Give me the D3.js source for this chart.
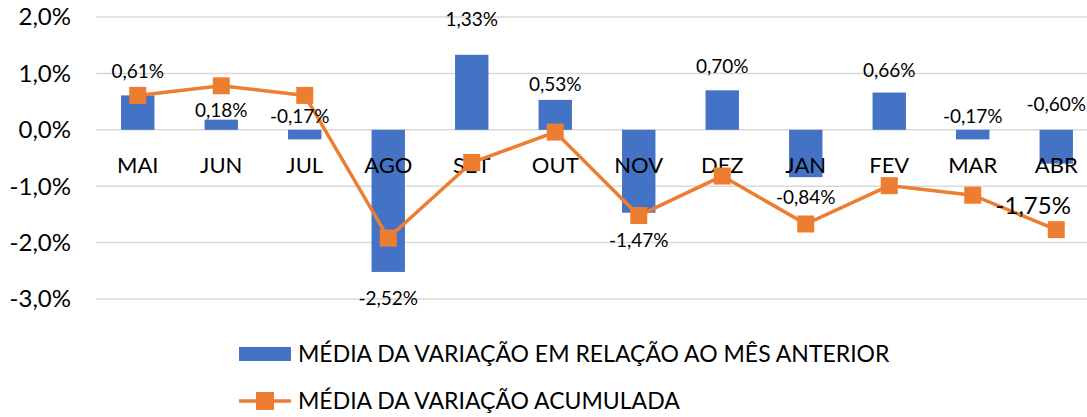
<!DOCTYPE html>
<html><head><meta charset="utf-8">
<script src="https://cdn.jsdelivr.net/npm/d3@7"></script>
<style>body{margin:0;background:#fff}svg{display:block}text{font-family:Lato,"Open Sans",sans-serif;fill:#000}</style>
</head><body><svg id="c" width="1087" height="417"></svg>
<script>
const months = ["MAI","JUN","JUL","AGO","SET","OUT","NOV","DEZ","JAN","FEV","MAR","ABR"];
const monthlyVar = [0.61,0.18,-0.17,-2.52,1.33,0.53,-1.47,0.70,-0.84,0.66,-0.17,-0.60];
const cumulativeVar = [0.61,0.78,0.61,-1.92,-0.58,-0.04,-1.52,-0.82,-1.67,-0.99,-1.16,-1.77];
const yTicks = [2,1,0,-1,-2,-3];
const seriesNames = ["MÉDIA DA VARIAÇÃO EM RELAÇÃO AO MÊS ANTERIOR","MÉDIA DA VARIAÇÃO ACUMULADA"];
const lineLabelText = "-1,75%";
// layout for bar labels: text center offset (px) from bar end (negative = up)
const barLabelOffset = [-24,-9,-13,26,-35,-16,28,-24,20,-22,-13,-25];
const barLabelAnchorZero = [false,false,true,false,false,false,false,false,false,false,true,true];
const barLabelDx = [0,0,-5,0,0,0,0,0,0,0,0,0];

const svg = d3.select("#c");
const x = d3.scaleBand().domain(months).range([96,1098]).paddingInner(0.6).paddingOuter(0.3);
const y = d3.scaleLinear().domain([-3,2]).range([299,17]);
const hy = s => s.replace(/\u2212/g,"-");
const fmt = v => hy(d3.format(".2f")(v).replace(".",","))+"%";
const fmt1 = v => hy(d3.format(".1f")(v).replace(".",","))+"%";

// gridlines
svg.append("g").selectAll("line").data(yTicks).join("line")
  .attr("x1",96).attr("x2",1087).attr("y1",d=>y(d)).attr("y2",d=>y(d))
  .attr("stroke","#d9d9d9").attr("stroke-width",1.5);
// y tick labels
svg.append("g").selectAll("text").data(yTicks).join("text")
  .attr("x",71).attr("y",d=>y(d)).attr("dy","0.35em").attr("text-anchor","end")
  .style("font-size","24px").text(d=>fmt1(d));

// bars
svg.append("g").selectAll("rect").data(monthlyVar).join("rect")
  .attr("x",(d,i)=>x(months[i])).attr("width",x.bandwidth())
  .attr("y",d=>y(Math.max(0,d))).attr("height",d=>Math.abs(y(d)-y(0)))
  .attr("fill","#4472C4");

// category labels
svg.append("g").selectAll("text").data(months).join("text")
  .attr("x",d=>x(d)+x.bandwidth()/2).attr("y",165).attr("dy","0.35em")
  .attr("text-anchor","middle").style("font-size","22px").text(d=>d);

// line
const cx = i => x(months[i])+x.bandwidth()/2;
svg.append("path").datum(cumulativeVar)
  .attr("d",d3.line().x((d,i)=>cx(i)).y(d=>y(d)))
  .attr("fill","none").attr("stroke","#ED7D31").attr("stroke-width",3.5);
svg.append("g").selectAll("rect").data(cumulativeVar).join("rect")
  .attr("x",(d,i)=>cx(i)-8.5).attr("y",d=>y(d)-8.5).attr("width",17).attr("height",17)
  .attr("fill","#ED7D31");

// bar labels
svg.append("g").selectAll("text").data(monthlyVar).join("text")
  .attr("x",(d,i)=>cx(i)+barLabelDx[i])
  .attr("y",(d,i)=>(barLabelAnchorZero[i]?y(0):y(d))+barLabelOffset[i])
  .attr("dy","0.35em").attr("text-anchor","middle").style("font-size","19px")
  .text(d=>fmt(d));

// line label (last point)
const li = cumulativeVar.length-1;
svg.append("text").attr("x",cx(li)-23).attr("y",y(cumulativeVar[li])-24).attr("dy","0.35em")
  .attr("text-anchor","middle").style("font-size","24px").text(lineLabelText);

// legend
const lg = svg.append("g");
lg.append("rect").attr("x",239).attr("y",347).attr("width",52).attr("height",14).attr("fill","#4472C4");
lg.append("text").attr("x",298).attr("y",354).attr("dy","0.35em").style("font-size","23px").text(seriesNames[0]);
lg.append("line").attr("x1",239).attr("x2",291).attr("y1",401).attr("y2",401).attr("stroke","#ED7D31").attr("stroke-width",3.5);
lg.append("rect").attr("x",256).attr("y",392).attr("width",18).attr("height",18).attr("fill","#ED7D31");
lg.append("text").attr("x",298).attr("y",401).attr("dy","0.35em").style("font-size","23px").text(seriesNames[1]);
</script></body></html>
